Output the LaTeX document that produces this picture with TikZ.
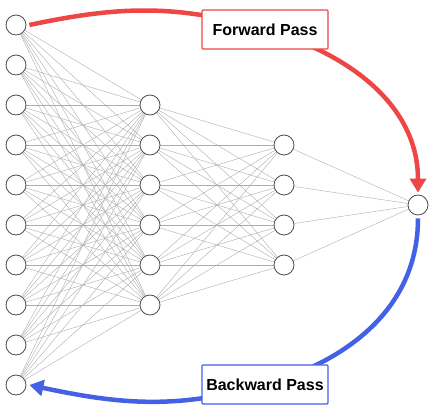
\documentclass[tikz,border=0pt]{standalone}
\usepackage{fontspec}
\setmainfont{Liberation Sans}
\usetikzlibrary{arrows.meta,backgrounds}

\definecolor{fwdred}{HTML}{EE4545}
\definecolor{bwdblue}{HTML}{4461E6}

\begin{document}
\begin{tikzpicture}[
            x=1pt,
            y=1pt,
            neuron/.style={
                circle,
                draw=black!70,
                line width=0.8pt,
                fill=white,
                minimum size=20pt,
                inner sep=0pt
            },
            synapse/.style={
                draw=black!32,
                line width=0.4pt
            },
            passbox/.style={
                rectangle,
                rounded corners=1pt,
                line width=1.3pt,
                fill=white,
                minimum width=126pt,
                minimum height=39pt,
                font=\bfseries\fontsize{16}{19}\selectfont
            },
            passarrow/.style={
                line width=4.5pt,
                -{Triangle[length=14pt,width=16pt]}
            }
        ]
            \useasboundingbox (0,0) rectangle (434,414);

            % input layer
            \node[neuron] (a1) at (16,389) {};
            \node[neuron] (a2) at (16,349) {};
            \node[neuron] (a3) at (16,309) {};
            \node[neuron] (a4) at (16,269) {};
            \node[neuron] (a5) at (16,229) {};
            \node[neuron] (a6) at (16,189) {};
            \node[neuron] (a7) at (16,149) {};
            \node[neuron] (a8) at (16,109) {};
            \node[neuron] (a9) at (16,69) {};
            \node[neuron] (a10) at (16,29) {};

            % hidden layers
            \node[neuron] (b1) at (150,309) {};
            \node[neuron] (b2) at (150,269) {};
            \node[neuron] (b3) at (150,229) {};
            \node[neuron] (b4) at (150,189) {};
            \node[neuron] (b5) at (150,149) {};
            \node[neuron] (b6) at (150,109) {};

            \node[neuron] (c1) at (284,269) {};
            \node[neuron] (c2) at (284,229) {};
            \node[neuron] (c3) at (284,189) {};
            \node[neuron] (c4) at (284,149) {};

            % output
            \node[neuron] (o) at (418,209) {};

            \node[passbox, draw=fwdred] (fwd) at (265,384.5) {Forward Pass};
            \node[passbox, draw=bwdblue] (bwd) at (265,29.5) {Backward Pass};

            \begin{scope}[on background layer]
                \foreach \i in {1,...,10}
                    \foreach \j in {1,...,6}
                        \draw[synapse] (a\i)--(b\j);
                \foreach \j in {1,...,6}
                    \foreach \k in {1,...,4}
                        \draw[synapse] (b\j)--(c\k);
                \foreach \k in {1,...,4}
                    \draw[synapse] (c\k)--(o);

                \draw[passarrow, fwdred] ([xshift=3pt]a1.east) to[out=12,in=164] (fwd.center)
                    to[out=-16,in=90] ([yshift=2pt]o.north);
                \draw[passarrow, bwdblue] ([yshift=-3pt]o.south) to[out=-90,in=16] (bwd.center)
                    to[out=196,in=-12] ([xshift=3pt]a10.east);
            \end{scope}
        \end{tikzpicture}
\end{document}
